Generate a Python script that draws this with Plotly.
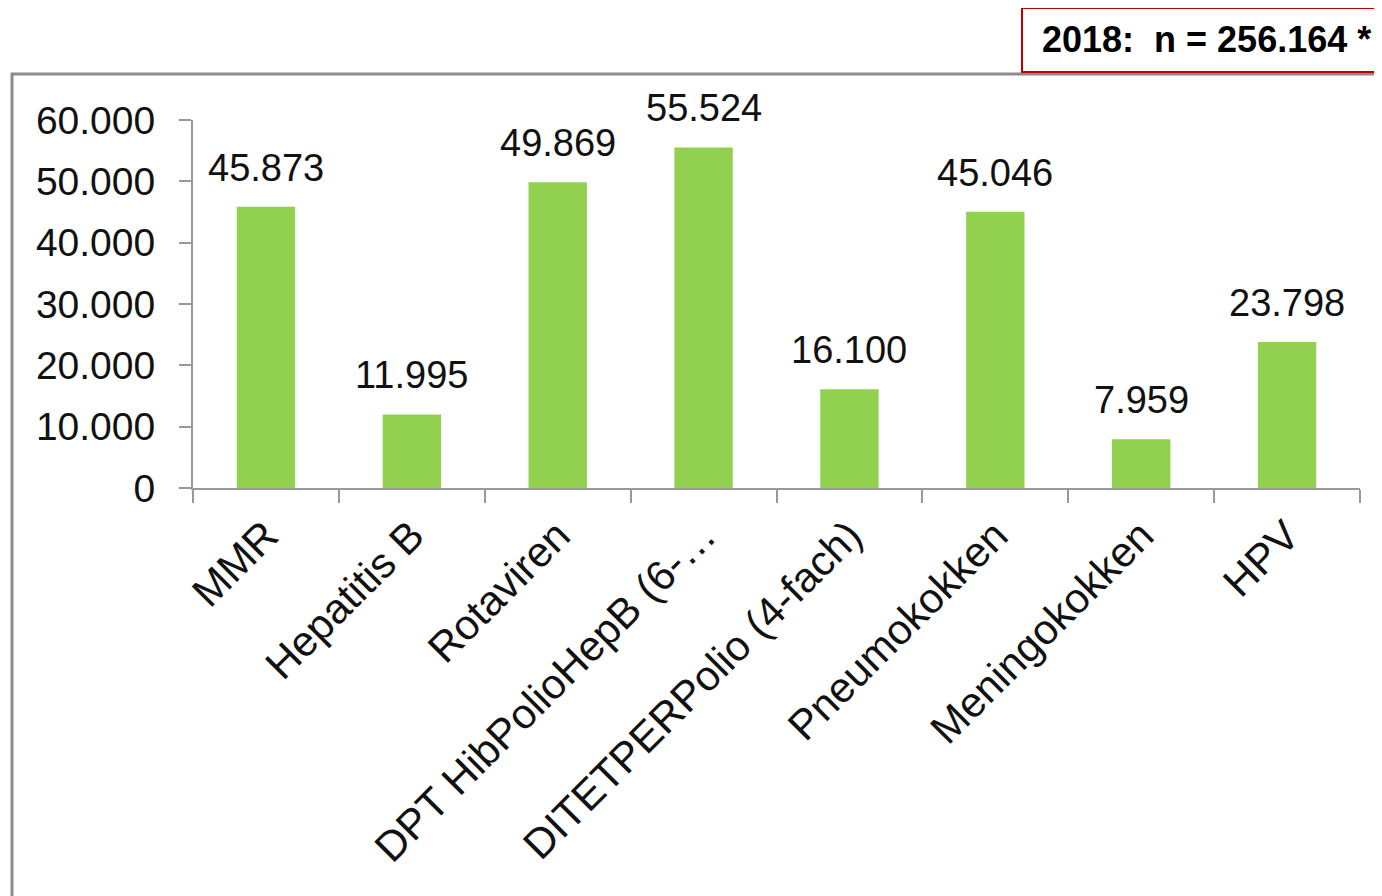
import plotly.graph_objects as go

categories = ["MMR", "Hepatitis B", "Rotaviren", "DPT HibPolioHepB (6-…",
              "DITETPERPolio (4-fach)", "Pneumokokken", "Meningokokken", "HPV"]
values = [45873, 11995, 49869, 55524, 16100, 45046, 7959, 23798]
y_ticks = [0, 10000, 20000, 30000, 40000, 50000, 60000]
box_text = "2018:\u00a0 n = 256.164 *"

FONT = "Liberation Sans, Arial, sans-serif"

fig = go.Figure()
fig.add_trace(go.Bar(
    x=categories, y=values,
    marker=dict(color="#92D050", line=dict(width=0)),
    cliponaxis=False,
))

# page body has an 8px margin, so work in page coords minus 8
OFF = 8
W, H = 1382 - OFF, 896 - OFF
L, T = 193 - OFF, 120 - OFF
pw, ph = 1167, 368
R = W - L - pw
B = H - T - ph


def px(x):
    return (x - OFF - L) / pw


def py(y):
    return (T + ph - (y - OFF)) / ph


# value labels above the bars (German thousands separator)
annotations = [
    dict(x=c, y=v, text=f"{v:,}".replace(",", "."), showarrow=False,
         yanchor="bottom", yshift=16, font=dict(size=38, color="#111111"))
    for c, v in zip(categories, values)
]
annotations.append(
    dict(text="<b>" + box_text + "</b>", xref="paper", yref="paper",
         x=px(1040), y=py(40), xanchor="left", yanchor="middle",
         showarrow=False, font=dict(size=36, color="black", family=FONT))
)

fig.update_layout(
    width=W, height=H,
    margin=dict(l=L, r=R, t=T, b=B, autoexpand=False),
    paper_bgcolor="white", plot_bgcolor="white",
    separators=",.",
    bargap=0.6,
    showlegend=False,
    font=dict(family=FONT, size=38, color="#111111"),
    xaxis=dict(
        tickangle=-45, ticks="outside", ticklen=13, tickwidth=2, tickcolor="#999999",
        tickson="boundaries", showline=True, linecolor="#999999", linewidth=2,
        showgrid=False, tickfont=dict(size=42), ticklabelstandoff=4,
    ),
    yaxis=dict(
        range=[0, 60000], tickvals=y_ticks, tickformat=",d",
        ticks="outside", ticklen=12, tickwidth=2, tickcolor="#999999",
        showline=True, linecolor="#999999", linewidth=2,
        showgrid=False, zeroline=False, tickfont=dict(size=39),
        ticklabelstandoff=16,
    ),
    shapes=[
        dict(type="rect", xref="paper", yref="paper",
             x0=px(12), x1=px(1420), y0=py(74), y1=py(940),
             line=dict(color="#8c8c8c", width=3), fillcolor="rgba(0,0,0,0)",
             layer="below"),
        dict(type="rect", xref="paper", yref="paper",
             x0=px(1022), x1=px(1420), y0=py(72), y1=py(8),
             line=dict(color="#C00000", width=2), fillcolor="white"),
    ],
    annotations=annotations,
)

fig.write_html("out.html")
